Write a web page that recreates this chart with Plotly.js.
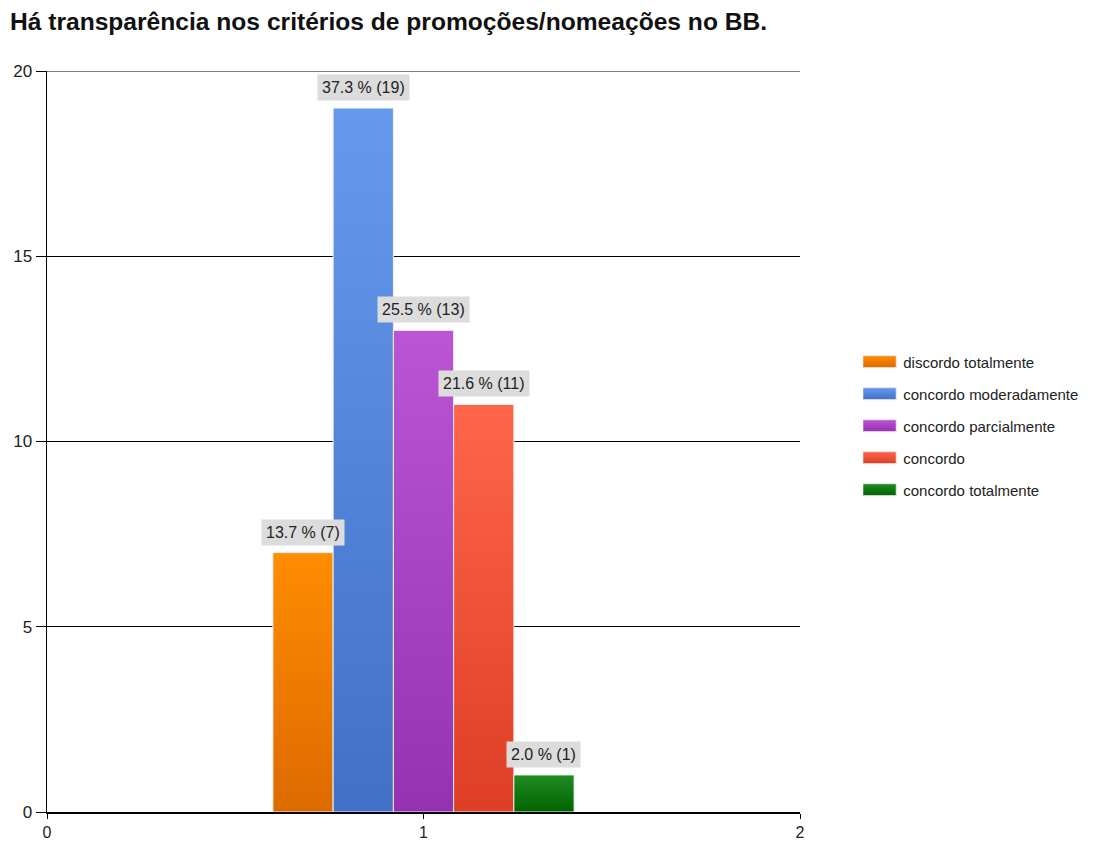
<!DOCTYPE html>
<html>
<head>
<meta charset="utf-8">
<script src="https://cdn.plot.ly/plotly-3.0.1.min.js"></script>
<style>html,body{margin:0;padding:0;background:#fff;}#chart{width:1104px;height:843px;}</style>
</head>
<body>
<div id="chart"></div>
<script>
const categories = ["discordo totalmente", "concordo moderadamente", "concordo parcialmente", "concordo", "concordo totalmente"];
const counts = [7, 19, 13, 11, 1];
const percents = [13.7, 37.3, 25.5, 21.6, 2.0];
const xPosition = [1];
const colorsTop = ["#ff8c00", "#6699ee", "#bb55d5", "#ff6649", "#228b22"];
const colorsBottom = ["#dd6a00", "#4270c6", "#9632b1", "#dd3e24", "#006400"];
const colorsMid = ["#f07c00", "#5584dc", "#a944c3", "#ee5236", "#127712"];
const yTicks = [0, 5, 10, 15, 20];
const xTicks = [0, 1, 2];

const n = categories.length;
const groupWidth = 0.8;
const barW = groupWidth / n;
const FONT = "Liberation Sans, Arial, sans-serif";

const traces = categories.map((c, i) => ({
  type: "bar",
  name: c,
  legendgroup: "g" + i,
  x: xPosition,
  y: [counts[i]],
  marker: { color: colorsMid[i], line: { color: "#eeeeee", width: 1 } },
  hoverinfo: "none"
}));

const annotations = categories.map((c, i) => ({
  x: xPosition[0] - groupWidth / 2 + barW * (i + 0.5),
  y: counts[i],
  xref: "x", yref: "y",
  text: percents[i].toFixed(1) + " % (" + counts[i] + ")",
  showarrow: false,
  yanchor: "bottom",
  yshift: 7,
  bgcolor: "#dcdcdc",
  borderpad: 4,
  font: { family: FONT, size: 16, color: "#222" }
}));

const layout = {
  width: 1104, height: 843,
  paper_bgcolor: "#fff", plot_bgcolor: "#fff",
  margin: { l: 47, r: 304, t: 71, b: 31 },
  title: {
    text: "<b>Há transparência nos critérios de promoções/nomeações no BB.</b>",
    x: 0.009, xanchor: "left", xref: "container", y: 0.975, yanchor: "middle",
    font: { family: FONT, size: 24.6, color: "#111" }
  },
  barmode: "group", bargap: 0.2, bargroupgap: 0,
  showlegend: true,
  legend: {
    x: 1.084, xanchor: "left", y: 0.521, yanchor: "middle",
    font: { family: FONT, size: 15, color: "#222" },
    tracegroupgap: 9.5, itemwidth: 30, traceorder: "grouped"
  },
  shapes: [{
    type: "line", xref: "paper", x0: 0, x1: 1, yref: "y",
    y0: yTicks[yTicks.length - 1], y1: yTicks[yTicks.length - 1],
    line: { color: "#000", width: 1 }
  }],
  xaxis: {
    range: [0, 2], tickvals: xTicks, ticktext: xTicks.map(String),
    showgrid: false, zeroline: false, showline: true, linecolor: "#000", linewidth: 1.5,
    ticks: "outside", ticklen: 5, tickcolor: "#000",
    tickfont: { family: FONT, size: 16, color: "#222" },
    fixedrange: true
  },
  yaxis: {
    range: [0, 20], tickvals: yTicks, ticktext: yTicks.map(String),
    showgrid: true, gridcolor: "#000", gridwidth: 1, zeroline: false,
    showline: true, linecolor: "#000", linewidth: 1.5,
    ticks: "outside", ticklen: 10, tickcolor: "#000",
    tickfont: { family: FONT, size: 17, color: "#222" },
    fixedrange: true
  },
  annotations: annotations
};

Plotly.newPlot("chart", traces, layout, { displayModeBar: false, staticPlot: true }).then(gd => {
  const svg = gd.querySelector("svg.main-svg");
  const ns = "http://www.w3.org/2000/svg";
  let defs = svg.querySelector("defs");
  if (!defs) { defs = document.createElementNS(ns, "defs"); svg.insertBefore(defs, svg.firstChild); }
  colorsTop.forEach((top, i) => {
    const g = document.createElementNS(ns, "linearGradient");
    g.setAttribute("id", "grad" + i);
    g.setAttribute("x1", "0"); g.setAttribute("y1", "0");
    g.setAttribute("x2", "0"); g.setAttribute("y2", "1");
    const s1 = document.createElementNS(ns, "stop"); s1.setAttribute("offset", "0"); s1.setAttribute("stop-color", top);
    const s2 = document.createElementNS(ns, "stop"); s2.setAttribute("offset", "1"); s2.setAttribute("stop-color", colorsBottom[i]);
    g.appendChild(s1); g.appendChild(s2); defs.appendChild(g);
  });
  gd.querySelectorAll(".barlayer .trace.bars").forEach((tr, i) => {
    tr.querySelectorAll("path").forEach(p => { p.style.fill = "url(#grad" + i + ")"; });
  });
  gd.querySelectorAll(".legend .traces").forEach((tr, i) => {
    tr.querySelectorAll(".legendpoints path").forEach(p => {
      p.setAttribute("d", "M13,6H-21V-6H13Z");
      p.style.fill = "url(#grad" + i + ")";
      p.style.stroke = "#e8e8e8";
      p.style.strokeWidth = "1px";
    });
  });
});
</script>
</body>
</html>
